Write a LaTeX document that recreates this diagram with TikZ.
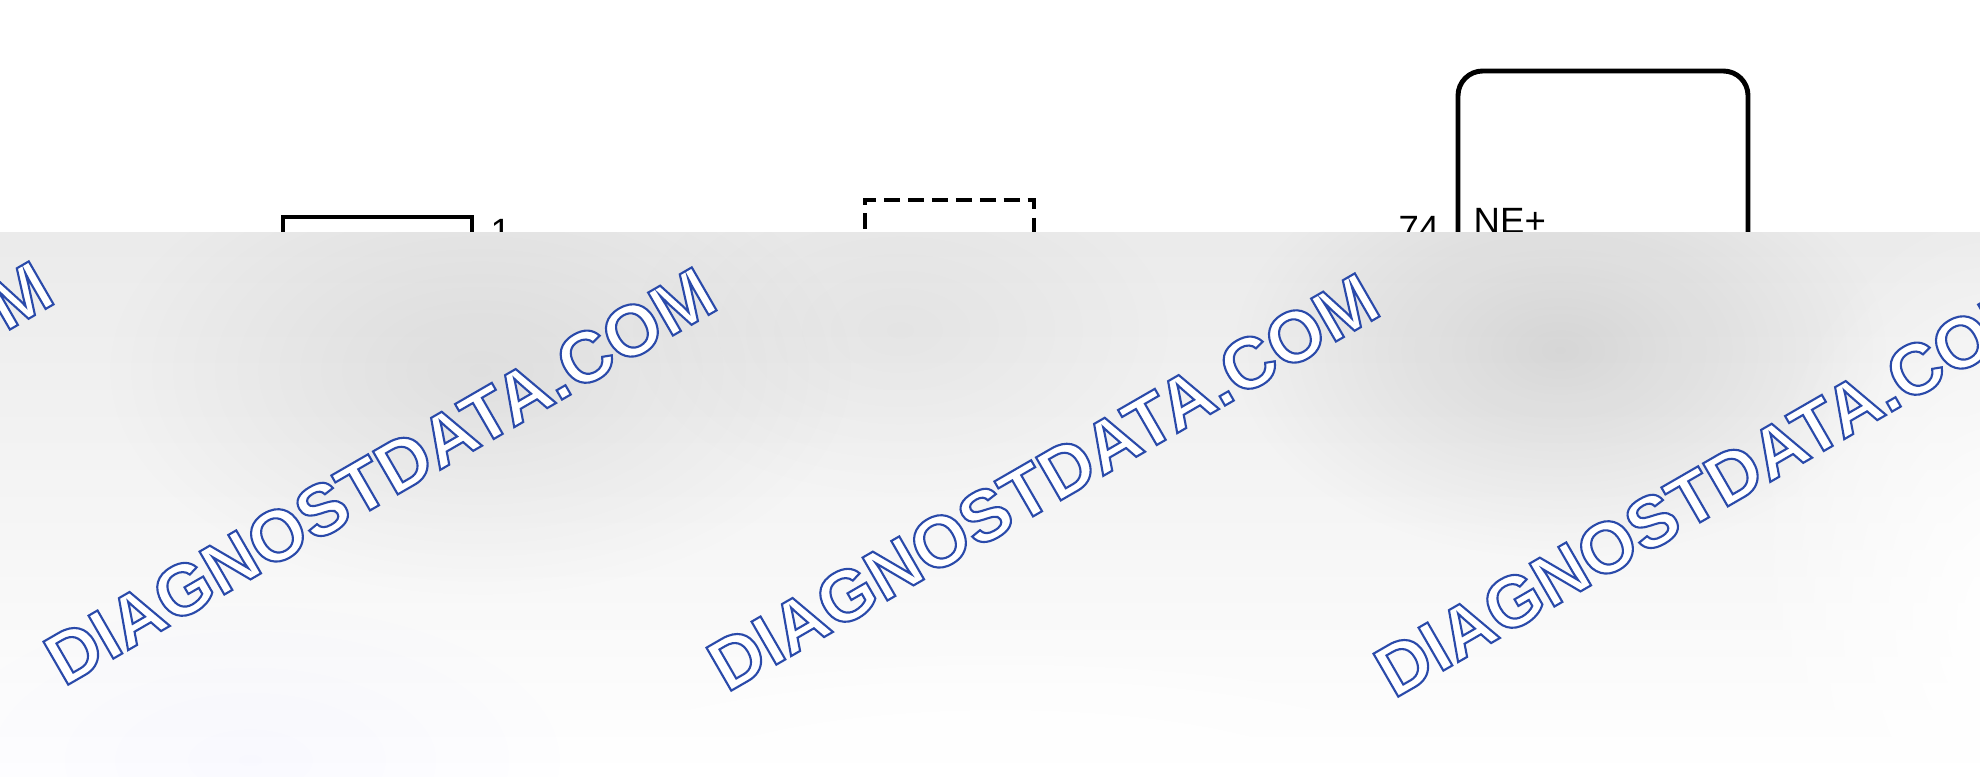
\documentclass[tikz,border=0pt]{standalone}
\usepackage{fontspec}
\setmainfont{Liberation Sans}
\usetikzlibrary{fadings}
\definecolor{wmblue}{HTML}{2A4AAA}
\tikzfading[name=softdisc, inner color=transparent!0, outer color=transparent!100]
\newcommand{\wmtext}{{\color{white}\special{pdf:literal direct 0.165 0.29 0.667 RG 2 Tr 0.6 w}DIAGNOSTDATA.COM\special{pdf:literal direct 0 Tr}}}
\tikzset{
  box/.style={line width=1.4pt},
  pin/.style={font=\fontsize{10.4}{12}\selectfont, inner sep=0pt},
  wmark/.style={rotate=30, font=\fontsize{20.5}{24}\selectfont\bfseries, inner sep=0pt},
  blob/.style={path fading=softdisc},
}

\begin{document}
\begin{tikzpicture}[x=0.01cm,y=-0.01cm]
\useasboundingbox (0,0) rectangle (1980,776);
% components
\draw[box] (283,420) -- (283,217) -- (472,217) -- (472,420);
\draw[box,dash pattern=on 4.5pt off 2.3pt] (865,420) -- (865,200) -- (1034,200) -- (1034,420);
\draw[box,rounded corners=7pt] (1458,420) -- (1458,71) -- (1748,71) -- (1748,420);
\node[pin,anchor=base west] (pin1) at (490,244) {1};
\node[pin,anchor=base east] (pin74) at (1440,241) {74};
\node[pin,anchor=base west] (ne) at (1473,233) {NE+};
% watermark band
\shade[top color=black!8, middle color=black!5, bottom color=white] (0,232) rectangle (1980,776);
\begin{scope}
\clip (0,232) rectangle (1980,776);
\fill[blob,black,opacity=.07] (480,370) ellipse (380 and 230);
\fill[blob,black,opacity=.04] (900,330) ellipse (280 and 170);
\fill[blob,black,opacity=.10] (1560,350) ellipse (330 and 210);
\fill[blob,white] (2000,620) ellipse (260 and 420);
\fill[blob,white] (1000,800) ellipse (700 and 180);
\fill[blob,blue!40,opacity=.05] (250,760) ellipse (320 and 160);
\node[wmark] (wm0) at (-283,470) {\wmtext};
\node[wmark] (wm1) at (380,476) {\wmtext};
\node[wmark] (wm2) at (1043,482) {\wmtext};
\node[wmark] (wm3) at (1710,488) {\wmtext};
\end{scope}
\end{tikzpicture}
\end{document}
